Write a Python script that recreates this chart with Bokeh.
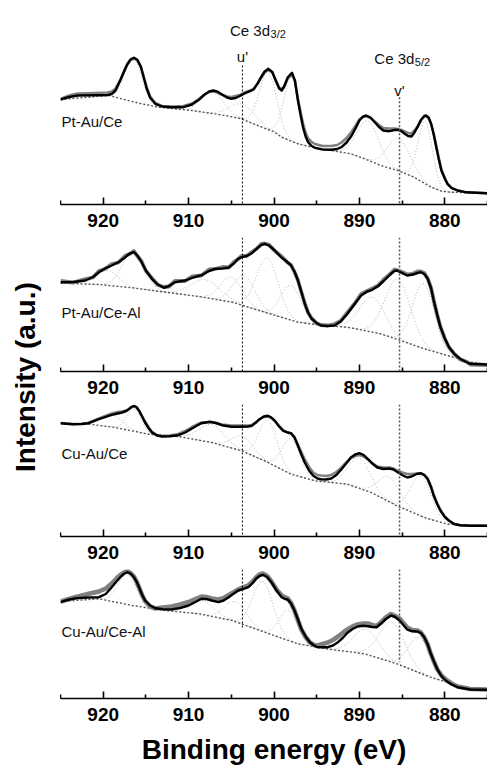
import numpy as np
from bokeh.plotting import figure
from bokeh.models import Range1d, FixedTicker, Arrow
from bokeh.layouts import row, column
from bokeh.core.properties import value
from bokeh.embed import file_html
from bokeh.resources import INLINE

# ---------------- data (binding energy in eV, intensity in a.u.) ----------------
X_START, X_END = 925, 875
X_TICKS = [920, 910, 900, 890, 880]
X_MINOR_TICKS = [925, 915, 905, 895, 885, 875]
U_PRIME_EV = 903.7
V_PRIME_EV = 885.3

sample_names = ["Pt-Au/Ce", "Pt-Au/Ce-Al", "Cu-Au/Ce", "Cu-Au/Ce-Al"]

# --- Pt-Au/Ce ---
ptce_x = [925, 924, 923, 921, 919.5, 919.0, 918.55, 917.97, 917.6, 917.2, 916.8, 916.4, 916.0, 915.6,
          915.26, 914.9, 914.5, 913.9, 913.1, 912.0, 910.6, 909.6, 908.8, 908.2, 907.6, 907.1, 906.6,
          906.0, 905.5, 905.0, 904.5, 904.0, 903.4, 902.8, 902.4, 901.9, 901.5, 901.1, 900.65, 900.2,
          899.8, 899.4, 899.1, 898.8, 898.4, 897.9, 897.55, 897.2, 896.9, 896.6, 896.3, 896.0, 895.6,
          895.2, 894.3, 893.3, 892.6, 892.1, 891.5, 890.9, 890.4, 890.0, 889.6, 889.2, 888.7, 888.2,
          887.7, 887.2, 886.5, 885.9, 885.5, 885.1, 884.7, 884.3, 883.9, 883.55, 883.2, 882.8, 882.4,
          882.2, 881.9, 881.6, 881.3, 881.0, 880.7, 880.4, 880.0, 879.7, 879.2, 878.5, 877.5, 875]
ptce_fit = [10.50, 10.75, 10.90, 10.93, 10.95, 11.05, 11.40, 12.47, 13.23, 14.00, 14.50, 14.67, 14.47, 13.80,
            12.73, 11.57, 10.67, 10.07, 9.80, 9.73, 9.73, 10.00, 10.47, 10.95, 11.30, 11.40, 11.28,
            10.95, 10.70, 10.57, 10.65, 10.85, 11.13, 11.33, 11.50, 12.13, 12.75, 13.30, 13.57, 13.25,
            12.40, 11.60, 11.40, 11.80, 12.70, 13.17, 12.40, 10.40, 9.00, 7.73, 6.80, 6.23, 5.85,
            5.67, 5.50, 5.47, 5.55, 5.73, 6.20, 6.90, 7.70, 8.40, 8.78, 8.90, 8.70, 8.23,
            7.75, 7.40, 7.33, 7.45, 7.47, 7.35, 7.07, 6.85, 6.80, 7.20, 7.73, 8.45, 8.85,
            8.90, 8.70, 8.07, 7.00, 5.73, 4.50, 3.40, 2.60, 2.07, 1.65, 1.40, 1.22, 1.13]
ptce_raw = [10.55, 10.90, 11.10, 11.15, 11.20, 11.30, 11.60, 12.50, 13.20, 13.95, 14.45, 14.60, 14.40, 13.80,
            12.80, 11.70, 10.80, 10.15, 9.85, 9.80, 9.85, 10.10, 10.55, 10.95, 11.25, 11.30, 11.20,
            10.95, 10.80, 10.75, 10.85, 10.95, 11.20, 11.40, 11.55, 12.10, 12.70, 13.20, 13.45, 13.20,
            12.45, 11.70, 11.55, 11.85, 12.60, 13.00, 12.35, 10.60, 9.30, 8.10, 7.20, 6.60, 6.25,
            6.05, 5.85, 5.85, 5.95, 6.20, 6.65, 7.30, 7.95, 8.50, 8.75, 8.82, 8.65, 8.30,
            7.95, 7.65, 7.60, 7.60, 7.55, 7.45, 7.30, 7.15, 7.10, 7.40, 7.80, 8.40, 8.80,
            8.82, 8.65, 8.05, 7.10, 5.90, 4.65, 3.50, 2.65, 2.10, 1.65, 1.40, 1.22, 1.13]
ptce_bg_x = [925, 919.3, 917.4, 915.5, 913.5, 909.6, 905.7, 903.8, 901.9, 899.9, 899.1, 897.2, 895.2,
             893.3, 891.0, 889.4, 887.5, 885.5, 883.6, 881.6, 880.4, 879.3, 875]
ptce_bg = [10.50, 10.90, 10.47, 10.07, 9.73, 9.40, 8.90, 8.57, 7.90, 7.23, 6.73, 6.07, 5.67,
           5.40, 5.07, 4.57, 3.90, 3.40, 2.73, 1.73, 1.33, 1.23, 1.13]
ptce_peak_ev = [916.5, 907.2, 903.7, 900.7, 897.9, 889.0, 885.4, 882.3]
ptce_peak_h = [4.5, 2.2, 1.5, 5.7, 6.5, 3.9, 3.2, 6.2]
ptce_peak_fwhm = [2.3, 3.0, 3.5, 2.4, 2.2, 3.0, 3.2, 2.0]

# --- Pt-Au/Ce-Al ---
ptceal_x = [925, 923.5, 922.1, 921.2, 920.5, 919.8, 919.0, 918.2, 917.4, 916.9, 916.4, 916.0, 915.5,
            915.0, 914.3, 913.6, 912.9, 912.3, 911.6, 910.4, 909.6, 908.5, 907.6, 906.9, 906.0, 905.3,
            904.7, 904.2, 903.8, 903.2, 902.6, 902.0, 901.5, 901.1, 900.6, 899.9, 899.1, 898.5, 898.0,
            897.6, 897.2, 896.8, 896.4, 896.0, 895.6, 895.0, 894.5, 893.7, 892.9, 892.2, 891.4, 890.6,
            889.8, 889.1, 888.5, 887.8, 887.1, 886.4, 885.9, 885.6, 885.0, 884.4, 883.7, 883.2, 882.8,
            882.4, 882.0, 881.6, 881.3, 880.9, 880.5, 880.0, 879.5, 878.9, 878.2, 877.5, 877.0, 875]
ptceal_fit = [8.93, 8.95, 9.10, 9.45, 9.93, 10.30, 10.60, 10.95, 11.43, 11.80, 11.93, 11.60, 10.93,
              10.10, 9.27, 8.70, 8.37, 8.55, 8.93, 9.10, 9.37, 9.63, 10.05, 10.27, 10.30, 10.40,
              10.80, 11.27, 11.43, 11.55, 11.83, 12.30, 12.65, 12.77, 12.60, 12.10, 11.37, 11.00, 10.60,
              10.00, 9.10, 8.00, 6.77, 5.90, 5.27, 4.85, 4.60, 4.55, 4.60, 5.00, 5.77, 6.70,
              7.60, 8.00, 8.17, 8.55, 9.10, 9.70, 10.05, 10.10, 9.85, 9.60, 9.70, 9.85, 9.93,
              9.75, 9.27, 8.30, 7.10, 5.70, 4.43, 3.30, 2.43, 1.75, 1.27, 0.95, 0.77, 0.70]
ptceal_raw = [9.05, 8.90, 9.25, 9.40, 10.05, 10.25, 10.75, 10.90, 11.60, 11.75, 12.05, 11.55, 11.00,
              10.05, 9.35, 8.65, 8.45, 8.50, 9.05, 9.05, 9.50, 9.60, 10.20, 10.25, 10.45, 10.40,
              10.95, 11.25, 11.55, 11.55, 11.95, 12.30, 12.75, 12.80, 12.70, 12.05, 11.50, 10.95, 10.65,
              9.95, 9.15, 7.95, 6.85, 5.85, 5.35, 4.80, 4.65, 4.60, 4.75, 5.05, 5.90, 6.75,
              7.75, 8.05, 8.30, 8.60, 9.25, 9.75, 10.20, 10.15, 9.95, 9.70, 9.80, 10.00, 10.00,
              9.85, 9.30, 8.35, 7.15, 5.70, 4.45, 3.30, 2.40, 1.80, 1.20, 1.00, 0.70, 0.65]
ptceal_bg_x = [925, 920.5, 916.6, 912.7, 908.8, 904.9, 901.1, 897.2, 894.1, 891.4, 887.5, 885.2,
               882.4, 879.7, 877.0, 875]
ptceal_bg = [8.83, 8.70, 8.37, 7.93, 7.50, 6.93, 5.93, 4.93, 4.60, 4.43, 3.77, 3.10,
             2.27, 1.60, 0.93, 0.70]
ptceal_peak_ev = [919.5, 916.5, 908.0, 905.0, 903.5, 900.8, 898.0, 888.5, 885.5, 882.5]
ptceal_peak_h = [1.5, 3.6, 1.8, 2.5, 3.0, 5.5, 3.5, 3.5, 6.0, 6.5]
ptceal_peak_fwhm = [3.0, 3.0, 4.0, 3.0, 3.0, 3.0, 2.8, 3.5, 3.5, 3.0]

# --- Cu-Au/Ce ---
cuce_x = [925, 923.6, 922.5, 921.7, 920.5, 919.0, 918.3, 917.8, 917.3, 917.0, 916.7, 916.4, 916.1,
          915.8, 915.45, 915.1, 914.7, 914.3, 913.7, 913.1, 912.2, 911.2, 910.4, 909.6, 909.0, 908.5,
          907.5, 906.8, 906.1, 905.0, 904.0, 903.0, 902.6, 902.1, 901.7, 901.2, 900.7, 900.3, 899.9,
          899.4, 898.9, 898.4, 898.0, 897.6, 897.2, 896.8, 896.4, 895.9, 895.4, 894.9, 894.5, 893.9,
          893.3, 892.7, 892.1, 891.5, 891.0, 890.5, 890.0, 889.5, 889.0, 888.5, 887.9, 887.2, 886.5,
          886.0, 885.6, 885.0, 884.4, 883.9, 883.3, 882.8, 882.4, 882.0, 881.6, 881.3, 880.9, 880.5,
          880.0, 879.5, 878.9, 878.2, 877.0, 875]
cuce_fit = [11.33, 11.23, 11.25, 11.33, 11.73, 12.17, 12.30, 12.40, 12.55, 12.73, 12.95, 13.07, 12.95,
            12.57, 12.00, 11.40, 10.85, 10.40, 10.10, 10.00, 10.02, 10.13, 10.40, 10.80, 11.10, 11.33,
            11.47, 11.35, 11.13, 10.97, 10.97, 11.00, 11.07, 11.40, 11.73, 12.00, 12.07, 11.90, 11.57,
            11.00, 10.57, 10.40, 10.33, 9.90, 9.07, 8.20, 7.40, 6.60, 6.07, 5.80, 5.73, 5.70,
            5.80, 6.15, 6.73, 7.35, 7.90, 8.20, 8.33, 8.15, 7.73, 7.30, 6.90, 6.75, 6.80,
            6.70, 6.47, 6.15, 5.90, 6.00, 6.25, 6.33, 6.15, 5.73, 4.90, 4.07, 3.25, 2.57,
            1.95, 1.57, 1.25, 1.13, 1.08, 1.07]
cuce_raw = [11.35, 11.25, 11.28, 11.38, 11.80, 12.30, 12.45, 12.50, 12.60, 12.75, 12.92, 13.00, 12.90,
            12.60, 12.05, 11.50, 10.95, 10.50, 10.15, 10.05, 10.10, 10.25, 10.55, 10.95, 11.20, 11.40,
            11.45, 11.35, 11.20, 11.10, 11.10, 11.10, 11.15, 11.45, 11.70, 11.95, 12.00, 11.85, 11.55,
            11.05, 10.60, 10.40, 10.30, 9.95, 9.20, 8.45, 7.70, 6.95, 6.40, 6.15, 6.10, 6.05,
            6.15, 6.45, 6.90, 7.45, 7.85, 8.05, 8.15, 8.00, 7.70, 7.35, 7.00, 6.90, 6.90,
            6.80, 6.60, 6.40, 6.25, 6.25, 6.30, 6.30, 6.15, 5.80, 5.00, 4.20, 3.35, 2.65,
            2.00, 1.60, 1.25, 1.13, 1.08, 1.07]
cuce_bg_x = [925, 921.7, 918.6, 914.7, 911.2, 907.3, 903.8, 901.1, 898.0, 895.2, 891.4, 888.6,
             885.6, 882.4, 879.7, 875]
cuce_bg = [11.33, 11.23, 10.90, 10.23, 10.00, 9.40, 8.57, 7.57, 6.23, 5.57, 5.23, 4.40,
           3.07, 1.90, 1.23, 1.07]
cuce_peak_ev = [919.0, 916.4, 907.3, 903.7, 900.7, 898.0, 890.0, 886.5, 882.8]
cuce_peak_h = [1.2, 2.2, 1.8, 1.5, 4.2, 3.5, 3.0, 2.5, 4.0]
cuce_peak_fwhm = [3.0, 2.0, 3.5, 3.0, 2.5, 2.5, 3.0, 3.0, 2.8]

# --- Cu-Au/Ce-Al ---
cuceal_x = [925, 924, 923.2, 921.8, 920.5, 919.7, 919.0, 918.5, 918.0, 917.6, 917.2, 916.8, 916.4,
            916.1, 915.8, 915.45, 915.1, 914.5, 913.9, 913.0, 912.0, 911.0, 910.0, 909.2, 908.5, 907.9,
            907.3, 906.5, 905.9, 905.3, 904.7, 904.2, 903.6, 903.0, 902.5, 902.1, 901.7, 901.3, 900.8,
            900.3, 899.7, 899.1, 898.7, 898.4, 898.0, 897.6, 897.2, 896.8, 896.3, 895.8, 895.3, 894.9,
            893.7, 893.1, 892.5, 891.9, 891.4, 890.8, 890.2, 889.6, 889.0, 888.5, 888.0, 887.5, 886.9,
            886.3, 885.8, 885.3, 884.8, 884.4, 883.8, 883.2, 882.8, 882.4, 882.0, 881.7, 881.3, 880.9,
            880.4, 879.9, 879.2, 878.5, 877.0, 875]
cuceal_fit = [9.63, 9.90, 10.03, 10.10, 10.13, 10.45, 11.13, 11.65, 12.13, 12.45, 12.63, 12.50, 12.13,
              11.70, 11.13, 10.40, 9.80, 9.30, 9.03, 8.92, 8.90, 9.05, 9.30, 9.65, 9.97, 9.95,
              9.80, 9.63, 9.80, 10.13, 10.50, 10.80, 10.97, 11.13, 11.55, 11.97, 12.25, 12.37, 12.15,
              11.63, 10.80, 10.13, 9.95, 9.90, 9.50, 8.80, 7.90, 6.97, 6.20, 5.63, 5.30, 5.13,
              5.13, 5.30, 5.63, 6.10, 6.57, 6.95, 7.20, 7.27, 7.23, 7.15, 7.13, 7.47, 7.95,
              8.30, 8.15, 7.80, 7.30, 6.90, 6.72, 6.70, 6.55, 6.13, 5.40, 4.63, 3.75, 2.97,
              2.25, 1.80, 1.40, 1.13, 0.90, 0.87]
cuceal_raw = [9.70, 9.95, 10.15, 10.45, 10.70, 11.00, 11.50, 11.95, 12.35, 12.60, 12.75, 12.55, 12.20,
              11.70, 11.10, 10.35, 9.75, 9.20, 9.00, 9.10, 9.20, 9.40, 9.65, 9.95, 10.20, 10.15,
              10.00, 9.90, 10.05, 10.35, 10.65, 10.90, 11.10, 11.30, 11.70, 12.10, 12.40, 12.50, 12.25,
              11.70, 10.90, 10.30, 10.10, 10.00, 9.55, 8.80, 7.85, 6.90, 6.15, 5.60, 5.35, 5.30,
              5.60, 5.85, 6.20, 6.60, 6.90, 7.20, 7.40, 7.50, 7.50, 7.35, 7.25, 7.60, 8.10,
              8.45, 8.25, 8.00, 7.50, 7.10, 6.85, 6.80, 6.60, 6.10, 5.40, 4.60, 3.75, 2.95,
              2.30, 1.90, 1.50, 1.20, 0.95, 0.90]
cuceal_bg_x = [925, 920.5, 916.6, 912.7, 908.8, 904.9, 901.1, 897.2, 893.3, 889.4, 885.6, 881.7,
               879.7, 877.8, 875]
cuceal_bg = [9.70, 9.97, 9.30, 8.80, 8.47, 7.80, 6.63, 5.47, 4.90, 4.47, 3.47, 2.13,
             1.63, 1.13, 0.90]
cuceal_peak_ev = [917.2, 908.5, 904.5, 901.3, 898.3, 889.2, 886.2, 883.0]
cuceal_peak_h = [3.0, 1.4, 2.0, 5.0, 3.0, 2.5, 4.0, 3.5]
cuceal_peak_fwhm = [2.5, 3.5, 3.0, 2.8, 2.5, 3.5, 3.5, 3.0]

# ---------------- styling / layout ----------------
FONT = "Liberation Sans"
LABEL_W = 60
PANEL_W = 427
TOTAL_H = 775

panels = [
    dict(name=sample_names[0], x=ptce_x, fit=ptce_fit, raw=ptce_raw, bgx=ptce_bg_x, bg=ptce_bg,
         pk=(ptce_peak_ev, ptce_peak_h, ptce_peak_fwhm), raw_w=2.6,
         frame=204, border=33, label_y=8.33),
    dict(name=sample_names[1], x=ptceal_x, fit=ptceal_fit, raw=ptceal_raw, bgx=ptceal_bg_x, bg=ptceal_bg,
         pk=(ptceal_peak_ev, ptceal_peak_h, ptceal_peak_fwhm), raw_w=3.8,
         frame=134, border=33, label_y=5.87),
    dict(name=sample_names[2], x=cuce_x, fit=cuce_fit, raw=cuce_raw, bgx=cuce_bg_x, bg=cuce_bg,
         pk=(cuce_peak_ev, cuce_peak_h, cuce_peak_fwhm), raw_w=2.6,
         frame=132, border=33, label_y=8.33),
    dict(name=sample_names[3], x=cuceal_x, fit=cuceal_fit, raw=cuceal_raw, bgx=cuceal_bg_x, bg=cuceal_bg,
         pk=(cuceal_peak_ev, cuceal_peak_h, cuceal_peak_fwhm), raw_w=4.6,
         frame=None, border=77, label_y=6.73),
]
used = sum(pd["frame"] + pd["border"] for pd in panels[:3])
panels[3]["frame"] = TOTAL_H - used - panels[3]["border"]

figs = []
for i, pd in enumerate(panels):
    top = pd["frame"] / 10.0
    p = figure(width=PANEL_W, height=pd["frame"] + pd["border"],
               x_range=Range1d(X_START, X_END), y_range=Range1d(0, top),
               output_backend="svg", toolbar_location=None,
               min_border_left=0, min_border_right=0, min_border_top=0,
               min_border_bottom=pd["border"])
    p.title.visible = False
    p.yaxis.visible = False
    p.grid.visible = False
    p.outline_line_color = None
    p.background_fill_color = None
    p.border_fill_color = None
    ax = p.xaxis[0]
    ax.ticker = FixedTicker(ticks=X_TICKS, minor_ticks=X_MINOR_TICKS)
    ax.major_tick_in = 7
    ax.major_tick_out = 0
    ax.minor_tick_in = 4
    ax.minor_tick_out = 0
    ax.axis_line_width = 1.6
    ax.major_tick_line_width = 1.6
    ax.minor_tick_line_width = 1.6
    ax.major_label_text_font = FONT
    ax.major_label_text_font_size = "19px"
    ax.major_label_text_font_style = "bold"
    ax.major_label_text_color = "black"
    ax.major_label_standoff = 9

    # fitted components (peak centre, height above background, FWHM), drawn on the background
    bgx_inc = np.array(pd["bgx"][::-1], dtype=float)
    bg_inc = np.array(pd["bg"][::-1], dtype=float)
    for c, h, w in zip(*pd["pk"]):
        xs = np.linspace(c - 1.9 * w, c + 1.9 * w, 70)
        base = np.interp(xs, bgx_inc, bg_inc)
        ys = base + h * np.exp(-4 * np.log(2) * ((xs - c) / w) ** 2)
        p.line(xs, ys, line_color="#b8b8b8", line_width=1.0, line_dash="1 2")

    p.line(pd["bgx"], pd["bg"], line_color="#555555", line_width=1.4, line_dash="2 2")
    p.line(pd["x"], pd["raw"], line_color="#808080", line_width=pd["raw_w"], line_join="round")
    p.line(pd["x"], pd["fit"], line_color="black", line_width=2.4, line_join="round")

    p.text(x=[X_START], y=[pd["label_y"]], text=[pd["name"]], x_offset=1,
           text_font=value(FONT), text_font_size="15px", text_color="#111111",
           text_align="left", text_baseline="alphabetic")

    # vertical markers u' and v'
    if i == 0:
        u_top, v_top = 13.9, 10.73
    else:
        u_top, v_top = top + 20, top + 20
    if i == 3:
        u_bot, v_bot = 6.97, 3.63
    else:
        u_bot, v_bot = -20, -20
    p.add_layout(Arrow(end=None, x_start=U_PRIME_EV, y_start=u_top, x_end=U_PRIME_EV, y_end=u_bot,
                       line_color="black", line_width=1.0, line_dash="2 2"))
    p.add_layout(Arrow(end=None, x_start=V_PRIME_EV, y_start=v_top, x_end=V_PRIME_EV, y_end=v_bot,
                       line_color="#555555", line_width=1.5, line_dash="2 2"))

    if i == 0:
        p.text(x=[905.15, 905.15, 888.25, 888.25], y=[17.4, 17.4, 14.57, 14.57],
               text=["Ce 3d", "3/2", "Ce 3d", "5/2"], x_offset=[0, 40.5, 0, 40.5],
               y_offset=[0, 3, 0, 3],
               text_font=value(FONT), text_font_size=["15px", "11px", "15px", "11px"],
               text_color="#111111", text_align="left", text_baseline="alphabetic")
        p.text(x=[U_PRIME_EV, V_PRIME_EV], y=[14.8, 11.4], text=["u'", "v'"],
               text_font=value(FONT), text_font_size="15px", text_color="#111111",
               text_align="center", text_baseline="alphabetic")

    if i == 3:
        ax.axis_label = "Binding energy (eV)"
        ax.axis_label_text_font = FONT
        ax.axis_label_text_font_size = "28px"
        ax.axis_label_text_font_style = "bold"
        ax.axis_label_text_color = "black"
        ax.axis_label_standoff = 10
    figs.append(p)

# y-axis title in its own narrow figure spanning all panels
lab = figure(width=LABEL_W, height=TOTAL_H, x_range=Range1d(0, LABEL_W), y_range=Range1d(0, TOTAL_H),
             output_backend="svg", toolbar_location=None,
             min_border_left=0, min_border_right=0, min_border_top=0, min_border_bottom=0)
lab.title.visible = False
lab.axis.visible = False
lab.grid.visible = False
lab.outline_line_color = None
lab.text(x=[25], y=[TOTAL_H - 376.6], text=["Intensity (a.u.)"], angle=np.pi / 2,
         text_font=value(FONT), text_font_size="28px", text_font_style="bold",
         text_color="black", text_align="center", text_baseline="middle")

layout = row(lab, column(*figs, spacing=0), spacing=0)

with open("out.html", "w") as f:
    f.write(file_html(layout, INLINE))
